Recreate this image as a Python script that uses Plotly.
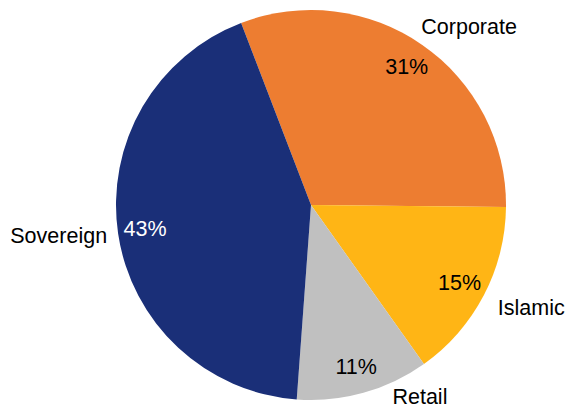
import math

import plotly.graph_objects as go

labels = ["Corporate", "Islamic", "Retail", "Sovereign"]
shares = [31, 15, 11, 43]
colors = ["#ED7D31", "#FFB515", "#C0C0C0", "#1A2F78"]
pct_colors = ["black", "black", "black", "white"]

W, H = 566, 408
CX, CY, R = 311, 205, 195
ROTATION = -21
font = "Liberation Sans, Arial, sans-serif"

# pixel nudges for the outside names, to sit where the original puts them
label_nudge = {"Corporate": (-7, -10), "Islamic": (8, 10), "Retail": (23, -7), "Sovereign": (-5, 2)}
LABEL_R = 180  # invisible label pies are smaller so their domains stay inside the paper


def pie_domain(cx, cy, r):
    # square pie domain in paper coords from a pixel centre and radius
    return dict(x=[(cx - r) / W, (cx + r) / W], y=[(H - cy - r) / H, (H - cy + r) / H])


domain = pie_domain(CX, CY, R)
common = dict(
    labels=labels,
    values=shares,
    sort=False,
    direction="clockwise",
    rotation=ROTATION,
    automargin=False,
    showlegend=False,
    hoverinfo="skip",
)
clear = dict(colors=["rgba(0,0,0,0)"] * len(labels), line=dict(width=0))

# mid angle of each slice, clockwise from 12 o'clock
total = sum(shares)
mid_angle = {}
start = ROTATION
for name, v in zip(labels, shares):
    sweep = 360 * v / total
    mid_angle[name] = start + sweep / 2
    start += sweep

fig = go.Figure()

# the filled pie itself
fig.add_trace(go.Pie(
    **common,
    marker=dict(colors=colors, line=dict(width=0)),
    textinfo="none",
    domain=domain,
))

# category names outside the rim, one invisible pie per name
for name in labels:
    dx, dy = label_nudge[name]
    a = math.radians(mid_angle[name])
    shift = R - LABEL_R  # push the smaller pie outwards so its rim point matches
    cx = CX + dx + math.sin(a) * shift
    cy = CY + dy - math.cos(a) * shift
    fig.add_trace(go.Pie(
        **common,
        marker=clear,
        text=[n if n == name else "" for n in labels],
        textinfo="text",
        textposition="outside",
        outsidetextfont=dict(family=font, size=21.5, color="black"),
        domain=pie_domain(cx, cy, LABEL_R),
    ))

# transparent ring to place the percentages near the rim
fig.add_trace(go.Pie(
    **common,
    hole=0.72,
    marker=clear,
    texttemplate="%{percent:.0%}",
    textposition="inside",
    insidetextorientation="horizontal",
    insidetextfont=dict(family=font, size=21.5, color=pct_colors),
    domain=domain,
))

fig.update_layout(
    width=W,
    height=H,
    margin=dict(l=0, r=0, t=0, b=0),
    paper_bgcolor="white",
    plot_bgcolor="white",
    showlegend=False,
)

# drop the browser's default body margin so the chart fills the window
fig.write_html(
    "out.html",
    config={"displayModeBar": False},
    post_script="document.body.style.margin = '0px';",
)
